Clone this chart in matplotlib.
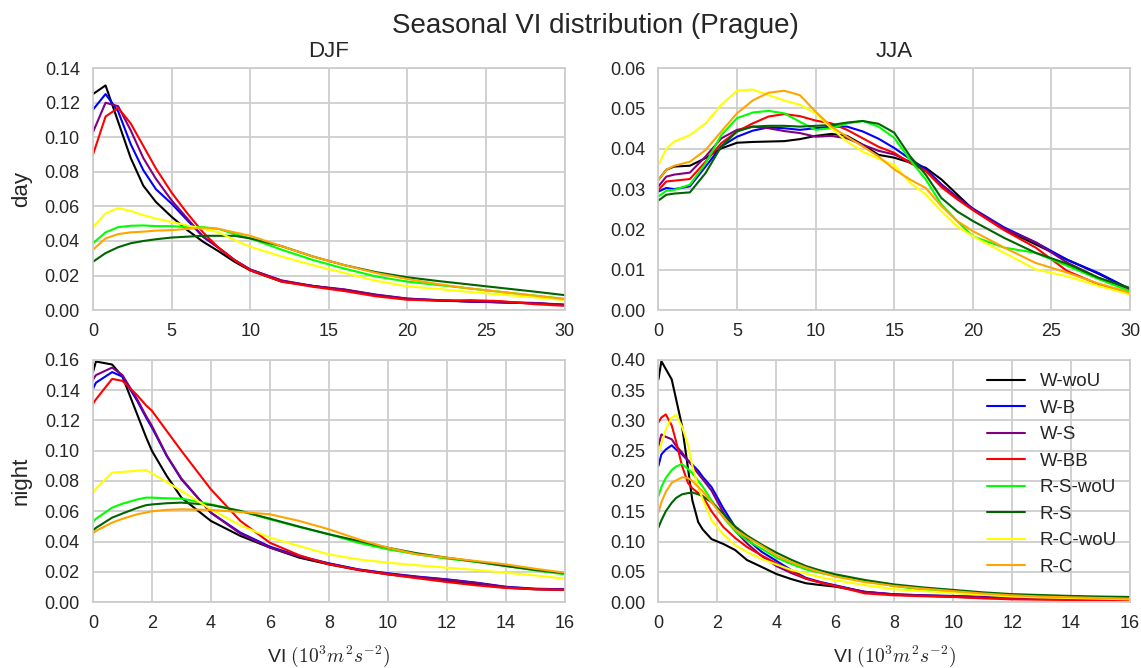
import numpy as np
import matplotlib
matplotlib.use("Agg")
import matplotlib.pyplot as plt
import seaborn as sns

sns.set_style("whitegrid")
plt.rcParams["font.family"] = ["Liberation Sans", "DejaVu Sans"]
plt.rcParams["mathtext.fontset"] = "cm"

labels = ["W-woU", "W-B", "W-S", "W-BB", "R-S-woU", "R-S", "R-C-woU", "R-C"]
colors = ["black", "blue", "purple", "red", "lime", "darkgreen", "yellow", "orange"]

# ---- DJF, day ----
x_djf_day = [0, 0.8, 1.6, 2.4, 3.2, 4, 5, 6, 7, 8, 9, 10, 12, 14, 16, 18, 20, 22, 24, 26, 28, 30]
djf_day = {
    "W-woU":   [0.125, 0.130, 0.109, 0.088, 0.072, 0.0626, 0.054, 0.0463, 0.0396, 0.034, 0.028, 0.023, 0.0165, 0.014, 0.0115, 0.0085, 0.0064, 0.0055, 0.005, 0.0045, 0.004, 0.003],
    "W-B":     [0.116, 0.125, 0.115, 0.096, 0.081, 0.070, 0.0616, 0.052, 0.0425, 0.036, 0.029, 0.0235, 0.017, 0.0138, 0.0118, 0.0088, 0.0066, 0.0057, 0.005, 0.0045, 0.004, 0.003],
    "W-S":     [0.103, 0.120, 0.118, 0.104, 0.088, 0.076, 0.0635, 0.053, 0.0425, 0.036, 0.029, 0.0235, 0.0172, 0.014, 0.012, 0.009, 0.0067, 0.0058, 0.005, 0.0046, 0.0042, 0.0032],
    "W-BB":    [0.090, 0.112, 0.117, 0.108, 0.095, 0.082, 0.068, 0.056, 0.045, 0.036, 0.029, 0.023, 0.0165, 0.0135, 0.011, 0.008, 0.006, 0.0055, 0.0058, 0.0052, 0.0035, 0.0025],
    "R-S-woU": [0.0387, 0.045, 0.048, 0.0488, 0.049, 0.0486, 0.0486, 0.048, 0.048, 0.047, 0.044, 0.0415, 0.035, 0.029, 0.024, 0.0195, 0.0165, 0.0145, 0.0125, 0.0105, 0.0085, 0.0065],
    "R-S":     [0.028, 0.033, 0.0364, 0.0387, 0.040, 0.041, 0.042, 0.0425, 0.043, 0.043, 0.043, 0.0415, 0.037, 0.031, 0.026, 0.022, 0.019, 0.0168, 0.0148, 0.0128, 0.0108, 0.0087],
    "R-C-woU": [0.048, 0.056, 0.059, 0.0574, 0.055, 0.053, 0.051, 0.049, 0.047, 0.045, 0.0406, 0.0367, 0.031, 0.026, 0.0215, 0.017, 0.0138, 0.0122, 0.0105, 0.009, 0.0075, 0.0058],
    "R-C":     [0.035, 0.0415, 0.044, 0.045, 0.0454, 0.046, 0.0463, 0.047, 0.0477, 0.047, 0.045, 0.043, 0.037, 0.031, 0.026, 0.0215, 0.018, 0.015, 0.0125, 0.0105, 0.0085, 0.0064],
}

# ---- JJA, day ----
x_jja_day = [0, 0.5, 1, 2, 3, 4, 5, 6, 7, 8, 9, 10, 11, 12, 13, 14, 15, 16, 17, 18, 19, 20, 22, 24, 26, 28, 30]
jja_day = {
    "W-woU":   [0.0323, 0.0348, 0.0356, 0.0358, 0.0377, 0.0401, 0.0415, 0.0417, 0.0418, 0.0419, 0.0424, 0.0432, 0.0437, 0.0432, 0.041, 0.0385, 0.0378, 0.0366, 0.0353, 0.0324, 0.0287, 0.025, 0.020, 0.0163, 0.0125, 0.009, 0.0052],
    "W-B":     [0.0294, 0.0303, 0.030, 0.0307, 0.0356, 0.0406, 0.043, 0.0445, 0.0453, 0.0451, 0.0447, 0.0451, 0.0455, 0.0455, 0.0443, 0.0425, 0.0402, 0.0375, 0.035, 0.0312, 0.028, 0.0252, 0.0205, 0.0168, 0.0125, 0.0092, 0.0052],
    "W-S":     [0.0307, 0.0331, 0.0336, 0.0341, 0.0381, 0.0426, 0.0447, 0.0455, 0.0451, 0.0444, 0.0439, 0.043, 0.0432, 0.0426, 0.041, 0.0395, 0.0386, 0.0368, 0.0345, 0.031, 0.028, 0.025, 0.0202, 0.0168, 0.0118, 0.008, 0.0052],
    "W-BB":    [0.0298, 0.0319, 0.0321, 0.0325, 0.0368, 0.0414, 0.0443, 0.0463, 0.048, 0.0486, 0.0481, 0.047, 0.0463, 0.0447, 0.0426, 0.0405, 0.039, 0.0365, 0.0345, 0.0305, 0.0275, 0.0248, 0.0198, 0.0155, 0.0097, 0.0064, 0.0043],
    "R-S-woU": [0.0282, 0.0296, 0.0298, 0.0311, 0.0364, 0.0434, 0.0476, 0.049, 0.0494, 0.0488, 0.0467, 0.0447, 0.0451, 0.0463, 0.0469, 0.0455, 0.0427, 0.0373, 0.0324, 0.0262, 0.0221, 0.0183, 0.0155, 0.0142, 0.011, 0.0077, 0.0047],
    "R-S":     [0.0272, 0.0286, 0.0289, 0.0292, 0.034, 0.0406, 0.0443, 0.0455, 0.0457, 0.0457, 0.0455, 0.0457, 0.0459, 0.0465, 0.0469, 0.0462, 0.044, 0.0382, 0.0336, 0.0278, 0.0245, 0.0221, 0.0179, 0.0142, 0.0115, 0.008, 0.0055],
    "R-C-woU": [0.036, 0.040, 0.0418, 0.0434, 0.0463, 0.0509, 0.0544, 0.0547, 0.0533, 0.052, 0.0509, 0.0488, 0.0451, 0.0418, 0.0393, 0.0375, 0.036, 0.0316, 0.0287, 0.0245, 0.0208, 0.0183, 0.0142, 0.0101, 0.0084, 0.006, 0.0039],
    "R-C":     [0.0323, 0.0348, 0.0358, 0.0368, 0.0397, 0.0443, 0.0488, 0.052, 0.0539, 0.0544, 0.0533, 0.0492, 0.0455, 0.043, 0.0406, 0.0381, 0.0349, 0.0324, 0.0303, 0.0258, 0.0221, 0.0196, 0.0155, 0.0117, 0.0093, 0.0066, 0.0043],
}

# ---- DJF, night ----
x_djf_night = [0, 0.1, 0.65, 1.0, 1.5, 1.8, 2.0, 2.5, 3, 4, 5, 6, 7, 8, 9, 10, 11, 12, 13, 14, 15, 16]
djf_night = {
    "W-woU":   [0.152, 0.159, 0.157, 0.149, 0.124, 0.109, 0.0999, 0.0834, 0.069, 0.0536, 0.0437, 0.036, 0.0293, 0.0249, 0.0212, 0.0183, 0.0161, 0.0139, 0.0117, 0.0095, 0.0084, 0.008],
    "W-B":     [0.141, 0.145, 0.152, 0.149, 0.133, 0.122, 0.1153, 0.0966, 0.0811, 0.0591, 0.0459, 0.0366, 0.0304, 0.0256, 0.0216, 0.019, 0.0168, 0.015, 0.0128, 0.0101, 0.0088, 0.0084],
    "W-S":     [0.147, 0.150, 0.155, 0.150, 0.134, 0.123, 0.1164, 0.097, 0.0816, 0.059, 0.0452, 0.036, 0.030, 0.0254, 0.0214, 0.0188, 0.0166, 0.0148, 0.0126, 0.0099, 0.0086, 0.0082],
    "W-BB":    [0.131, 0.134, 0.1475, 0.1462, 0.1367, 0.130, 0.1264, 0.1131, 0.0999, 0.0745, 0.0536, 0.0392, 0.0309, 0.0249, 0.0212, 0.0183, 0.0157, 0.0132, 0.011, 0.0093, 0.0084, 0.008],
    "R-S-woU": [0.0529, 0.055, 0.0624, 0.065, 0.0678, 0.069, 0.069, 0.0686, 0.0684, 0.0646, 0.0602, 0.0547, 0.0496, 0.0448, 0.0392, 0.0348, 0.0315, 0.0287, 0.0265, 0.0238, 0.0209, 0.0183],
    "R-S":     [0.0474, 0.049, 0.0558, 0.0585, 0.0622, 0.064, 0.0645, 0.0653, 0.0657, 0.0642, 0.0602, 0.0551, 0.0498, 0.0448, 0.0404, 0.0359, 0.0322, 0.0293, 0.0267, 0.0238, 0.0212, 0.019],
    "R-C-woU": [0.0723, 0.075, 0.0856, 0.086, 0.0868, 0.0873, 0.085, 0.0794, 0.0734, 0.0613, 0.0507, 0.0426, 0.037, 0.0315, 0.0282, 0.026, 0.0243, 0.0227, 0.0212, 0.0194, 0.0176, 0.0154],
    "R-C":     [0.0454, 0.047, 0.0525, 0.055, 0.058, 0.0591, 0.060, 0.0609, 0.0613, 0.0609, 0.0595, 0.058, 0.0536, 0.0481, 0.0415, 0.0359, 0.0315, 0.0293, 0.0271, 0.0249, 0.022, 0.0194],
}

# ---- JJA, night ----
x_jja_night = [0, 0.1, 0.25, 0.45, 0.6, 0.8, 1.0, 1.15, 1.35, 1.5, 1.8, 2.2, 2.6, 3, 3.5, 4, 4.5, 5, 5.5, 6, 7, 8, 9, 10, 11, 12, 13, 14, 15, 16]
jja_night = {
    "W-woU":   [0.368, 0.398, 0.385, 0.368, 0.335, 0.291, 0.222, 0.168, 0.132, 0.12, 0.104, 0.096, 0.086, 0.0695, 0.058, 0.0463, 0.038, 0.031, 0.028, 0.0254, 0.0165, 0.012, 0.0105, 0.0085, 0.007, 0.0066, 0.0066, 0.0066, 0.007, 0.0072],
    "W-B":     [0.225, 0.244, 0.252, 0.259, 0.252, 0.244, 0.234, 0.227, 0.217, 0.207, 0.19, 0.155, 0.124, 0.104, 0.083, 0.068, 0.053, 0.040, 0.033, 0.0276, 0.0165, 0.0127, 0.011, 0.010, 0.0085, 0.007, 0.0065, 0.006, 0.0058, 0.0055],
    "W-S":     [0.258, 0.277, 0.273, 0.269, 0.258, 0.247, 0.234, 0.225, 0.212, 0.203, 0.184, 0.148, 0.118, 0.097, 0.076, 0.0595, 0.048, 0.0386, 0.032, 0.0265, 0.017, 0.0127, 0.011, 0.0095, 0.008, 0.007, 0.0065, 0.006, 0.0058, 0.0055],
    "W-BB":    [0.297, 0.305, 0.310, 0.292, 0.265, 0.225, 0.197, 0.188, 0.180, 0.175, 0.150, 0.124, 0.106, 0.091, 0.077, 0.064, 0.051, 0.0386, 0.032, 0.0265, 0.0143, 0.011, 0.0095, 0.0083, 0.006, 0.0044, 0.0038, 0.0033, 0.0033, 0.0033],
    "R-S-woU": [0.175, 0.190, 0.205, 0.218, 0.224, 0.228, 0.220, 0.213, 0.200, 0.191, 0.168, 0.140, 0.117, 0.102, 0.088, 0.0733, 0.063, 0.054, 0.048, 0.043, 0.0347, 0.0265, 0.020, 0.0154, 0.012, 0.010, 0.0088, 0.0077, 0.007, 0.0066],
    "R-S":     [0.123, 0.135, 0.150, 0.164, 0.172, 0.178, 0.180, 0.181, 0.178, 0.175, 0.165, 0.146, 0.125, 0.110, 0.095, 0.0816, 0.070, 0.0595, 0.052, 0.0458, 0.0364, 0.029, 0.024, 0.020, 0.016, 0.013, 0.0115, 0.010, 0.009, 0.0083],
    "R-C-woU": [0.245, 0.262, 0.285, 0.305, 0.309, 0.290, 0.260, 0.225, 0.190, 0.170, 0.135, 0.112, 0.094, 0.083, 0.071, 0.062, 0.053, 0.047, 0.041, 0.036, 0.028, 0.021, 0.018, 0.015, 0.012, 0.009, 0.0075, 0.0066, 0.0055, 0.0044],
    "R-C":     [0.148, 0.165, 0.182, 0.197, 0.201, 0.206, 0.205, 0.200, 0.190, 0.183, 0.165, 0.140, 0.120, 0.107, 0.093, 0.077, 0.066, 0.0568, 0.049, 0.042, 0.033, 0.0265, 0.022, 0.018, 0.014, 0.011, 0.009, 0.0077, 0.0066, 0.0055],
}

panels = [
    (0, 0, x_djf_day, djf_day, (0, 30), np.arange(0, 31, 5), (0, 0.14), np.arange(0, 0.141, 0.02)),
    (0, 1, x_jja_day, jja_day, (0, 30), np.arange(0, 31, 5), (0, 0.06), np.arange(0, 0.061, 0.01)),
    (1, 0, x_djf_night, djf_night, (0, 16), np.arange(0, 17, 2), (0, 0.16), np.arange(0, 0.161, 0.02)),
    (1, 1, x_jja_night, jja_night, (0, 16), np.arange(0, 17, 2), (0, 0.40), np.arange(0, 0.401, 0.05)),
]

fig, axes = plt.subplots(2, 2, figsize=(11.41, 6.68), dpi=100)
plt.subplots_adjust(left=0.0815, right=0.9904, top=0.898, bottom=0.0988,
                    wspace=0.199, hspace=0.206)

for r, c, xs, data, xlim, xticks, ylim, yticks in panels:
    ax = axes[r, c]
    for lab, col in zip(labels, colors):
        ax.plot(xs, data[lab], color=col, linewidth=1.5, label=lab)
    ax.set_xlim(*xlim)
    ax.set_ylim(*ylim)
    ax.set_xticks(xticks)
    ax.set_yticks(yticks)
    ax.set_yticklabels([f"{v:.2f}" for v in yticks])
    ax.tick_params(axis="both", labelsize=13, colors="0.15", pad=6)
    for sp in ax.spines.values():
        sp.set_color("0.8")
        sp.set_linewidth(1.25)
    ax.grid(color="0.8", linewidth=1.25)

axes[0, 0].set_title("DJF", fontsize=16, color="0.15", pad=8)
axes[0, 1].set_title("JJA", fontsize=16, color="0.15", pad=8)
axes[0, 0].set_ylabel("day", fontsize=16, color="0.15", labelpad=9)
axes[1, 0].set_ylabel("night", fontsize=16, color="0.15", labelpad=9)
for ax in axes[1]:
    ax.set_xlabel(r"VI $(10^3 m^2 s^{-2})$", fontsize=14, color="0.15",
                  labelpad=8)

axes[1, 1].legend(loc="upper right", frameon=False, fontsize=13.5,
                  borderaxespad=0.3)
fig.suptitle("Seasonal VI distribution (Prague)", fontsize=20, color="0.15",
             x=0.5215, y=0.981)

fig.savefig("out.png", dpi=100, facecolor="white")
